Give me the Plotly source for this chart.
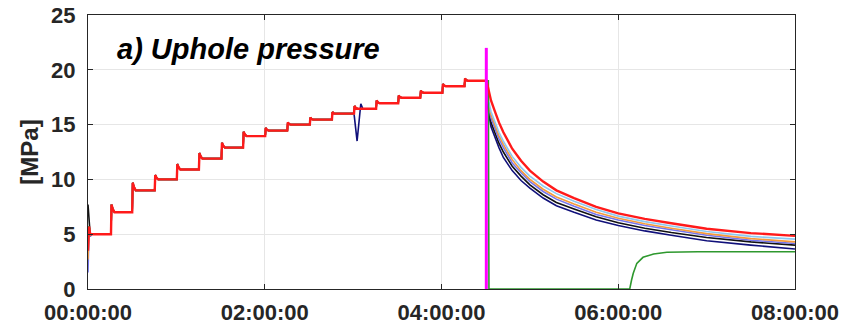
import plotly.graph_objects as go

# ---- time axis (hours since start) ----
X_TICKS = [0, 2, 4, 6, 8]
X_TICK_TEXT = ["00:00:00", "02:00:00", "04:00:00", "06:00:00", "08:00:00"]
Y_TICKS = [0, 5, 10, 15, 20, 25]

# ---- injection phase: stepped pressure ramp shared by all gauges ----
FIRST_LEVEL = 5.0
STEP_ONSETS = [0.26, 0.5, 0.755, 1.005, 1.255, 1.51, 1.755, 2.005, 2.255,
               2.51, 2.76, 3.01, 3.26, 3.51, 3.76, 4.01, 4.26]
STEP_PEAKS = [7.7, 9.7, 10.4, 11.4, 12.4, 13.35, 14.35, 14.7, 15.2,
              15.65, 16.15, 16.7, 17.2, 17.65, 18.1, 18.7, 19.2]
STEP_LEVELS = [7.0, 9.0, 10.0, 10.9, 11.9, 12.9, 13.95, 14.45, 15.0,
               15.45, 16.0, 16.45, 16.95, 17.45, 17.9, 18.5, 19.0]
SHUT_IN = 4.507

# start-up transient of each gauge
INIT_T = [0.0, 0.012, 0.025]
INIT_P = {
    "navy":      [4.6, 5.5, 4.8],
    "black":     [7.7, 5.8, 4.9],
    "blue":      [1.5, 5.4, 4.8],
    "orange":    [2.7, 5.6, 4.9],
    "lightblue": [4.2, 5.6, 5.0],
    "green":     [5.6, 5.7, 5.0],
    "red":       [3.5, 5.7, 5.0],
}

# pressure excursion on one gauge during the 3 h step
NAVY_DIP_T = [3.01, 3.045, 3.087, 3.11]
NAVY_DIP_P = [16.0, 13.5, 16.9, 16.45]

# ---- shut-in phase: pressure fall-off ----
DECAY_T = [4.51, 4.515, 4.53, 4.56, 4.6, 4.65, 4.7, 4.8, 4.9, 5.0,
           5.15, 5.3, 5.5, 5.75, 6.0, 6.3, 6.6, 7.0, 7.5, 8.0]
DECAY_P = {
    "red":       [19.0, 18.8, 18.2, 17.2, 16.3, 15.2, 14.3, 12.8, 11.7, 10.8,
                  9.8, 9.0, 8.3, 7.5, 6.9, 6.4, 6.0, 5.5, 5.1, 4.85],
    "lightblue": [19.0, 18.3, 17.3, 16.2, 15.3, 14.3, 13.5, 12.1, 11.1, 10.3,
                  9.4, 8.7, 8.0, 7.25, 6.65, 6.15, 5.75, 5.25, 4.8, 4.55],
    "orange":    [19.0, 18.1, 17.0, 15.9, 15.0, 14.0, 13.2, 11.8, 10.8, 10.0,
                  9.1, 8.4, 7.75, 7.0, 6.45, 5.95, 5.55, 5.05, 4.6, 4.3],
    "blue":      [19.0, 18.0, 16.8, 15.6, 14.7, 13.7, 12.9, 11.5, 10.6, 9.8,
                  8.9, 8.2, 7.55, 6.8, 6.3, 5.8, 5.4, 4.9, 4.45, 4.15],
    "black":     [19.0, 17.8, 16.5, 15.2, 14.3, 13.3, 12.5, 11.2, 10.3, 9.5,
                  8.6, 7.9, 7.3, 6.6, 6.05, 5.55, 5.15, 4.7, 4.3, 4.0],
    "navy":      [19.0, 17.5, 16.2, 14.8, 13.9, 12.9, 12.0, 10.8, 9.9, 9.2,
                  8.3, 7.6, 7.0, 6.3, 5.8, 5.3, 4.9, 4.4, 4.0, 3.65],
}

# gauge that is isolated at shut-in and later recovers
GREEN_T = [4.51, 4.53, 4.537, 6.13, 6.15, 6.17, 6.21, 6.28, 6.4, 6.55, 6.9, 8.0]
GREEN_P = [19.0, 19.0, 0.0, 0.0, 0.8, 1.43, 2.34, 2.89, 3.19, 3.35, 3.4, 3.4]

# shut-in marker
MARK_T = [SHUT_IN, SHUT_IN]
MARK_P = [0.0, 22.0]

COLORS = {
    "navy": "#10107A",
    "black": "#111111",
    "blue": "#7474EE",
    "orange": "#F59A3C",
    "lightblue": "#8CC8F2",
    "green": "#2E982E",
    "red": "#FF1A1A",
}


def staircase():
    """Stepped ramp: sharp rise at each onset, short overshoot, then a flat hold."""
    t, p = [0.04], [FIRST_LEVEL]
    prev = FIRST_LEVEL
    for onset, peak, lvl in zip(STEP_ONSETS, STEP_PEAKS, STEP_LEVELS):
        t += [onset, onset + 0.006, onset + 0.02, onset + 0.04]
        p += [prev, peak, (peak + lvl) / 2 - 0.05, lvl]
        prev = lvl
    t.append(SHUT_IN)
    p.append(prev)
    return t, p


fig = go.Figure()
base_t, base_p = staircase()

for name in ["navy", "black", "blue", "orange", "lightblue", "green", "red"]:
    st, sp = list(base_t), list(base_p)
    if name == "navy":
        keep = [(a, b) for a, b in zip(st, sp) if not (NAVY_DIP_T[0] <= a <= NAVY_DIP_T[-1] + 0.03)]
        merged = sorted(keep + list(zip(NAVY_DIP_T, NAVY_DIP_P)))
        st = [a for a, _ in merged]
        sp = [b for _, b in merged]
    t = INIT_T + st
    p = INIT_P[name] + sp
    if name == "green":
        t += GREEN_T
        p += GREEN_P
    else:
        t += DECAY_T
        p += DECAY_P[name]
    fig.add_trace(go.Scatter(
        x=t, y=p, mode="lines", name=name,
        line=dict(color=COLORS[name], width=2.4 if name == "red" else 1.6),
        hoverinfo="skip",
    ))

fig.add_trace(go.Scatter(
    x=MARK_T, y=MARK_P, mode="lines", name="shut-in",
    line=dict(color="#FF00FF", width=3), hoverinfo="skip",
))

axis_common = dict(
    showline=True, linecolor="#262626", linewidth=1, mirror="ticks",
    ticks="inside", ticklen=5, tickcolor="#262626", tickwidth=1,
    showgrid=True, gridcolor="#E6E6E6", gridwidth=1, zeroline=False,
    automargin=False,
    tickfont=dict(family="Liberation Sans, Arial, sans-serif", size=22,
                  color="#262626", weight="bold"),
)

fig.update_xaxes(range=[0, 8], tickvals=X_TICKS, ticktext=X_TICK_TEXT,
                 ticklabelstandoff=4, **axis_common)
fig.update_yaxes(range=[0, 25], tickvals=Y_TICKS, ticklabelstandoff=7,
                 title=dict(text="[MPa]", standoff=5,
                            font=dict(family="Liberation Sans, Arial, sans-serif",
                                      size=24, color="#262626", weight="bold")),
                 **axis_common)

fig.add_annotation(
    x=0.038, y=21.9, xref="paper", yref="y", xanchor="left", yanchor="middle",
    text="<b><i>a) Uphole pressure</i></b>", showarrow=False,
    font=dict(family="Liberation Sans, Arial, sans-serif", size=29, color="#000000"),
)

fig.update_layout(
    width=846, height=328,
    margin=dict(l=88, r=51, t=15, b=39),
    paper_bgcolor="white", plot_bgcolor="white",
    showlegend=False,
)

fig.write_html("out.html")
